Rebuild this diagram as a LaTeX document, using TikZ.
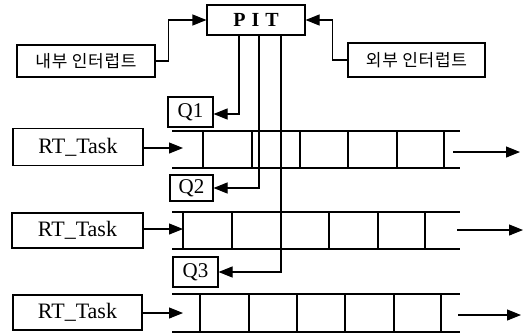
\documentclass[tikz,border=0pt]{standalone}
\usepackage{fontspec}
\setmainfont{Liberation Serif}
\newfontfamily\krfont[LetterSpace=4]{Noto Sans CJK KR}
\newfontfamily\pitfont[LetterSpace=30]{Liberation Serif Bold}
\usetikzlibrary{arrows.meta}
\begin{document}
\begin{tikzpicture}[x=1pt,y=-1pt,
  line width=1.1pt,
  box/.style={draw,line width=1.1pt,inner sep=0pt,align=center},
  arr/.style={-{Triangle[length=14pt,width=11pt]}},
  lbl/.style={font=\fontsize{21}{23}\selectfont},
  task/.style={font=\fontsize{22}{24}\selectfont},
  kr/.style={font=\krfont\fontsize{17}{19}\selectfont}]
\useasboundingbox (0,0) rectangle (526,333);

% controller and interrupt sources
\node[box,minimum width=98pt,minimum height=30pt,font=\pitfont\fontsize{20}{22}\selectfont] (PIT) at (256,20) {PIT};
\node[box,kr,minimum width=138pt,minimum height=32pt] (inner) at (86,61) {내부 인터럽트};
\node[box,kr,minimum width=137pt,minimum height=34pt] (outer) at (416.5,60) {외부 인터럽트};

% queue labels
\node[box,lbl,minimum width=45pt,minimum height=30pt] (Q1) at (190.5,112) {Q1};
\node[box,lbl,minimum width=43pt,minimum height=26pt] (Q2) at (191.5,188) {Q2};
\node[box,lbl,minimum width=45pt,minimum height=30pt] (Q3) at (195.5,272) {Q3};

% tasks
\node[box,task,minimum width=130pt,minimum height=37pt] (T1) at (78,147) {RT\_Task};
\node[box,task,minimum width=131pt,minimum height=35pt] (T2) at (77.5,230.5) {RT\_Task};
\node[box,task,minimum width=129pt,minimum height=35pt] (T3) at (77.5,312.5) {RT\_Task};

% queues (open-ended cell strips)
\foreach \top/\bot/\cells in {131/168/{203,252,300,348,397,444},
                              212/249/{183,232,281,329,378,425},
                              294/332/{200,249,297,345,394,441}}{
  \draw (172,\top) -- (460,\top);
  \draw (172,\bot) -- (460,\bot);
  \foreach \c in \cells { \draw (\c,\top) -- (\c,\bot); }
}

% queue entry and exit points
\coordinate (in1) at (183,148);
\coordinate (in2) at (183,229);
\coordinate (in3) at (183,313);
\coordinate (o1a) at (453,152); \coordinate (o1b) at (520,152);
\coordinate (o2a) at (457,230); \coordinate (o2b) at (523,230);
\coordinate (o3a) at (458,315); \coordinate (o3b) at (521,315);

% interrupts into the PIT
\draw[arr] (inner.east) -- ++(13,0) |- (PIT.west);
\draw[arr] (outer.west) -- ++(-15,0) |- (PIT.east);

% PIT dispatch to queues
\draw[arr] ([xshift=-17pt]PIT.south) |- ([yshift=-2pt]Q1.east);
\draw[arr] ([xshift=3pt]PIT.south) |- (Q2.east);
\draw[arr] ([xshift=25pt]PIT.south) |- (Q3.east);

% tasks into queues, queues out
\draw[arr] (T1.east |- in1) -- (in1);
\draw[arr] (T2.east |- in2) -- (in2);
\draw[arr] (T3.east |- in3) -- (in3);
\draw[arr] (o1a) -- (o1b);
\draw[arr] (o2a) -- (o2b);
\draw[arr] (o3a) -- (o3b);
\end{tikzpicture}
\end{document}
